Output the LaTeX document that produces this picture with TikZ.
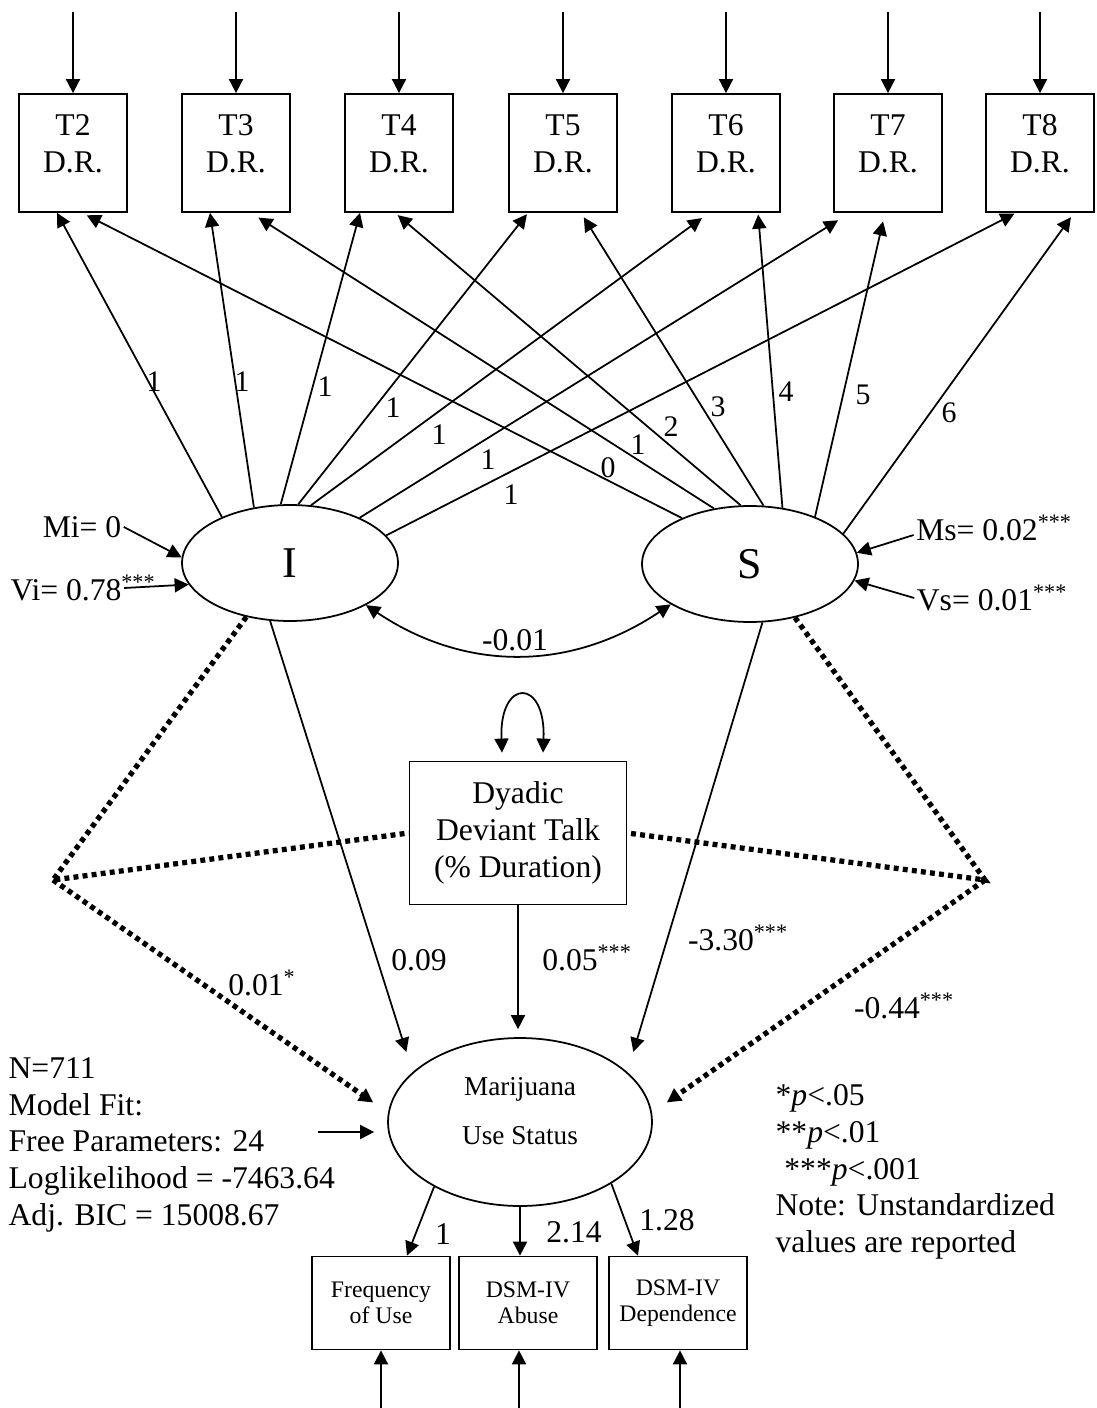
\documentclass[tikz,border=0pt]{standalone}
\usepackage{fontspec}
\setmainfont{Liberation Serif}
\usetikzlibrary{arrows.meta,calc,shapes.geometric}

\begin{document}
\begin{tikzpicture}[x=0.02cm, y=-0.02cm, >={Triangle[length=8pt,width=8pt]}, line width=1pt]
		\tikzstyle{every node}=[align=center, inner sep=1pt, font=\fontsize{18}{21}\selectfont]
		\tikzstyle{obs}=[draw, line width=1pt]
		\tikzstyle{lat}=[draw, ellipse, line width=1pt, inner sep=0pt]
		\tikzstyle{small}=[font=\fontsize{17}{19}\selectfont]
		\tikzstyle{dots}=[line width=3pt, dash pattern=on 2.8pt off 2.4pt]
		\useasboundingbox (0,0) rectangle (1096,1408);

		% D.R. boxes at the top
		\foreach \t/\x in {2/73, 3/236, 4/399, 5/563, 6/726, 7/888, 8/1040} {
			\node[obs, minimum width=2.16cm, minimum height=2.36cm] (T\t) at (\x,153) {T\t\\D.R.\\[-10pt]\mbox{}};
			\draw[<-] (T\t.north) -- ++(0,-81);
		}

		% growth factors
		\node[lat, minimum width=4.32cm, minimum height=2.32cm, font=\fontsize{25}{28}\selectfont] (I) at (290,563) {I};
		\node[lat, minimum width=4.32cm, minimum height=2.32cm, font=\fontsize{25}{28}\selectfont] (S) at (750,564) {S};

		% loadings of I
		\foreach \t/\a/\dx/\g/\lx/\ly in {2/146/-16/0/154/382, 3/123/-26/0/242/382, 4/99/-39/0/325/387,
				5/82/-35/1/393/408, 6/70/-17/5/439/435, 7/33/-38/8/488/460, 8/16/-24/1/511/495} {
			\draw[->, shorten >=\g pt] (I.\a) -- ($(T\t.south)+(\dx,0)$);
			\node[small] (li\t) at (\lx,\ly) {1};
		}
		% loadings of S
		\foreach \t/\a/\dx/\g/\lx/\ly/\w in {2/146/9/3/608/468/0, 3/123/15/5/638/445/1, 4/99/-4/2/671/427/2,
				5/77/18/3/718/407/3, 6/60/32/1/786/392/4, 7/36/-3/5/863/395/5, 8/18/34/3/949/413/6} {
			\draw[->, shorten >=\g pt] (S.\a) -- ($(T\t.south)+(\dx,0)$);
			\node[small] (ls\t) at (\lx,\ly) {\w};
		}

		% means and variances
		\node (mi) at (82,527) {Mi= 0};
		\node (vi) at (66,588) {Vi= 0.78\rlap{\textsuperscript{***}}};
		\node (ms) at (977,528) {Ms= 0.02\rlap{\textsuperscript{***}}};
		\node (vs) at (975,598) {Vs= 0.01\rlap{\textsuperscript{***}}};
		\draw[->] (mi.east) -- (I.177);
		\draw[->] (vi.east) -- (I.192);
		\draw[->] ([yshift=-4pt]ms.west) -- (S.6);
		\draw[->] (vs.west) -- (S.351);

		\draw[<->] (I.331) .. controls +(100,67) and +(-100,67) .. (S.207);
		\node (cov) at (515,640) {-0.01};

		% deviant talk
		\node[obs, minimum width=4.34cm, minimum height=2.86cm] (D) at (518,833) {Dyadic\\Deviant Talk\\(\% Duration)};
		\draw[<->] ($(D.north)+(-16,-8)$) .. controls +(-3,-75) and +(3,-75) .. ($(D.north)+(25,-8)$);

		% outcome
		\node[lat, minimum width=5.28cm, minimum height=3.36cm] (M) at (520,1122) {};
		\node[font=\fontsize{15.5}{27.8}\selectfont] (mtext) at (520,1111) {Marijuana\\Use Status};
		\draw[->, shorten >=0.42cm] (I.251) -- (M.155);
		\draw[->, shorten >=0.16cm] (D.south) -- (D.south |- M.north);
		\draw[->, shorten >=0.42cm] (S.282) -- (M.25);
		\node (l09) at (419,960) {0.09};
		\node (l05) at (587,958) {0.05\textsuperscript{***}};
		\node (l330) at (738,938) {-3.30\textsuperscript{***}};

		% interactions
		\coordinate (lx) at (53,880);
		\coordinate (rx) at (985,880);
		\draw[dots] (I.231) -- (lx) -- (D.west);
		\draw[dots] (S.310) -- (rx) -- (D.east);
		\draw[dots, ->, shorten >=0.36cm] (lx) -- (M.176);
		\draw[dots, ->, shorten >=0.36cm] (rx) -- (M.4);
		\node (l001) at (262,983) {0.01\textsuperscript{*}};
		\node (l044) at (904,1006) {-0.44\textsuperscript{***}};

		\coordinate (mres) at (318,1132);
		\draw[->, shorten >=0.26cm] (mres) -- (mres -| M.west);

		% indicators of use status
		\tikzstyle{ind}=[obs, minimum width=2.76cm, minimum height=1.86cm, font=\fontsize{13.5}{14.8}\selectfont]
		\node[ind] (F) at (381,1303) {Frequency\\of Use};
		\node[ind] (A) at (528,1303) {DSM-IV\\Abuse};
		\node[ind] (P) at (678,1303) {DSM-IV\\Dependence};
		\draw[->] (M.217) -- ($(F.north)+(26,0)$);
		\draw[->] (M.south) -- (M.south |- A.north);
		\draw[->] (M.326) -- ($(P.north)+(-40,0)$);
		\node (lf) at (443,1234) {1};
		\node (la) at (574,1232) {2.14};
		\node (lp) at (667,1220) {1.28};
		\draw[<-] (F.south) -- ++(0,58);
		\draw[<-] ($(A.south)+(-9,0)$) -- ++(0,58);
		\draw[<-] ($(P.south)+(2,0)$) -- ++(0,58);

		% fit and notes
		\node[anchor=north west, align=left, font=\fontsize{18}{20.9}\selectfont] (fit) at (6,1055) {N=711\\Model Fit:\\Free Parameters: 24\\Loglikelihood = -7463.64\\Adj. BIC = 15008.67};
		\node[anchor=north west, align=left, font=\fontsize{18}{20.9}\selectfont] (notes) at (773,1082) {*\textit{p}<.05\\**\textit{p}<.01\\\hspace*{5pt}***\textit{p}<.001\\Note: Unstandardized\\values are reported};
\end{tikzpicture}
\end{document}
